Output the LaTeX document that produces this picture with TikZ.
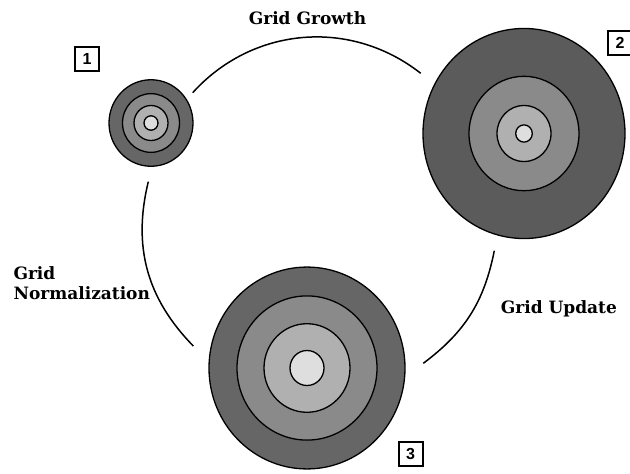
\documentclass[tikz,border=0pt]{standalone}
\usepackage{fontspec}
\setmainfont{DejaVu Serif}
\newfontfamily\digitfont{Liberation Sans}
\usetikzlibrary{positioning}
\definecolor{outerA}{gray}{0.40}
\definecolor{outerB}{gray}{0.355}
\definecolor{midgray}{gray}{0.54}
\definecolor{lightgray}{gray}{0.69}
\definecolor{palegray}{gray}{0.87}

\begin{document}
\begin{tikzpicture}[x=1pt,y=1pt,
  ring/.style={draw=black,line width=1.3pt},
  tag/.style={draw=black,line width=2pt,fill=white,minimum size=24pt,inner sep=0pt,font=\digitfont\bfseries\fontsize{16}{16}\selectfont},
  lbl/.style={font=\bfseries\fontsize{17}{20}\selectfont,inner sep=0pt},
  link/.style={line width=1.5pt}]
\useasboundingbox (0,0) rectangle (630,-474);
\coordinate (s1) at (151,-123);
\coordinate (s2) at (524,-133.5);
\coordinate (s3) at (307,-368);
% concentric rings, outermost first
\foreach \r/\c in {42/outerA,28.5/midgray,17/lightgray,7/palegray}
  \filldraw[ring,fill=\c] (s1) ellipse [x radius=\r, y radius=1.03*\r];
\foreach \r/\c in {101/outerB,55/midgray,27/lightgray,8.3/palegray}
  \filldraw[ring,fill=\c] (s2) ellipse [x radius=\r, y radius=1.04*\r];
\foreach \r/\c in {98/outerA,70/midgray,43/lightgray,17/palegray}
  \filldraw[ring,fill=\c] (s3) ellipse [x radius=\r, y radius=1.03*\r];
\node[tag] (t1) at (87,-59) {1};
\node[tag] (t2) at (620,-43) {2};
\node[tag] (t3) at (410.5,-454) {3};
\node[lbl,anchor=base] (growth) at (307.5,-24.3) {Grid Growth};
\node[lbl,anchor=base west] (update) at (500.7,-313.3) {Grid Update};
\node[lbl,anchor=north west,align=left] (norm) at (13.3,-266) {Grid\\Normalization};
\coordinate (g1) at (192.7,-92.7);
\coordinate (g2) at (420.7,-73.3);
\coordinate (n1) at (148.3,-181.7);
\coordinate (n2) at (193.3,-346);
\coordinate (u1) at (494.3,-250.7);
\coordinate (u2) at (423.3,-363.3);
\draw[link] (g1) to[bend left=43] (g2);
\draw[link] (n1) to[bend right=29] (n2);
\draw[link] (u1) to[bend left=21] (u2);
\end{tikzpicture}
\end{document}
